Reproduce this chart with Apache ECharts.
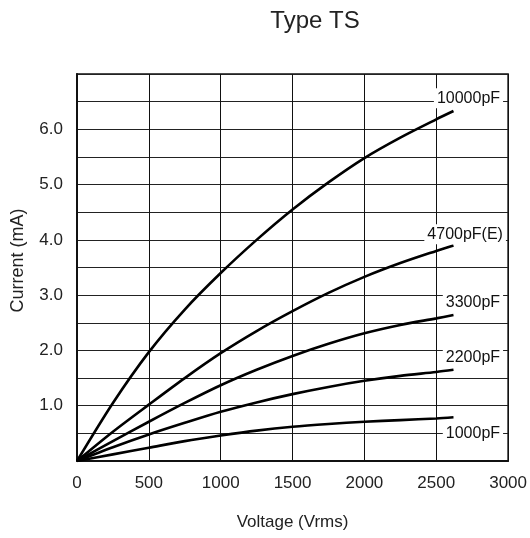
<!DOCTYPE html>
<html>
<head>
<meta charset="utf-8">
<script src="https://cdn.jsdelivr.net/npm/echarts@6/dist/echarts.min.js"></script>
<style>html,body{margin:0;padding:0;background:#fff}#c{width:530px;height:538px}</style>
</head>
<body>
<div id="c"></div>
<script>
const voltages = [0, 250, 500, 750, 1000, 1250, 1500, 1750, 2000, 2250, 2500, 2620];
const seriesNames = ['10000pF', '4700pF(E)', '3300pF', '2200pF', '1000pF'];
const cur10000 = [0, 1.05, 1.97, 2.74, 3.4, 4.0, 4.55, 5.04, 5.48, 5.85, 6.18, 6.33];
const cur4700 = [0, 0.53, 1.02, 1.5, 1.95, 2.35, 2.71, 3.04, 3.33, 3.58, 3.8, 3.9];
const cur3300 = [0, 0.36, 0.71, 1.05, 1.37, 1.65, 1.9, 2.12, 2.31, 2.46, 2.58, 2.64];
const cur2200 = [0, 0.25, 0.48, 0.69, 0.89, 1.06, 1.21, 1.34, 1.45, 1.54, 1.61, 1.65];
const cur1000 = [0, 0.12, 0.24, 0.36, 0.46, 0.55, 0.62, 0.67, 0.71, 0.74, 0.77, 0.79];
const labelX = [2965, 2985, 2965, 2965, 2965];
const labelY = [6.56, 4.1, 2.86, 1.87, 0.5];

const allCurrents = [cur10000, cur4700, cur3300, cur2200, cur1000];
const FONT = '"Liberation Sans", Arial, Helvetica, sans-serif';

const chart = echarts.init(document.getElementById('c'));
const series = seriesNames.map((name, i) => ({
  name: name,
  type: 'line',
  smooth: 0.3,
  showSymbol: false,
  symbol: 'none',
  lineStyle: { color: '#000', width: 2.6 },
  data: voltages.map((v, j) => [v, allCurrents[i][j]]),
  markPoint: {
    symbol: 'circle',
    symbolSize: 0,
    silent: true,
    data: [{ coord: [labelX[i], labelY[i]], value: name }],
    label: {
      show: true,
      position: 'inside',
      align: 'right',
      verticalAlign: 'middle',
      formatter: name,
      color: '#111',
      fontSize: 16,
      fontFamily: FONT,
      backgroundColor: '#fff',
      padding: [2, 3]
    }
  }
}));

chart.setOption({
  animation: false,
  backgroundColor: '#fff',
  title: {
    text: 'Type TS',
    left: 310,
    top: 4,
    textAlign: 'center',
    textStyle: { fontSize: 24, fontWeight: 'normal', color: '#222', fontFamily: FONT }
  },
  grid: {
    left: 77, right: 21, top: 74, bottom: 77,
    show: true, borderColor: '#111', borderWidth: 1.5, backgroundColor: 'transparent'
  },
  xAxis: {
    type: 'value',
    min: 0, max: 3000, interval: 500,
    name: 'Voltage (Vrms)',
    nameLocation: 'middle',
    nameGap: 53,
    nameTextStyle: { fontSize: 17, color: '#222', fontFamily: FONT },
    axisLine: { show: true, lineStyle: { color: '#111', width: 2 } },
    axisTick: { show: false },
    axisLabel: { fontSize: 17, color: '#222', margin: 14, fontFamily: FONT, formatter: v => String(v) },
    splitLine: { show: true, lineStyle: { color: '#111', width: 1 } }
  },
  yAxis: {
    type: 'value',
    min: 0, max: 7, interval: 0.5,
    name: 'Current (mA)',
    nameLocation: 'middle',
    nameGap: 50,
    nameRotate: 90,
    nameTextStyle: { fontSize: 18, color: '#222', fontFamily: FONT, padding: [0, 0, 0, 14] },
    axisLine: { show: true, lineStyle: { color: '#111', width: 2 } },
    axisTick: { show: false },
    axisLabel: {
      fontSize: 17, color: '#222', margin: 14, fontFamily: FONT,
      formatter: v => (v > 0 && v < 7 && Math.abs(v - Math.round(v)) < 1e-9) ? v.toFixed(1) : ''
    },
    splitLine: { show: true, lineStyle: { color: '#222', width: 1 } }
  },
  series: series
});
</script>
</body>
</html>
